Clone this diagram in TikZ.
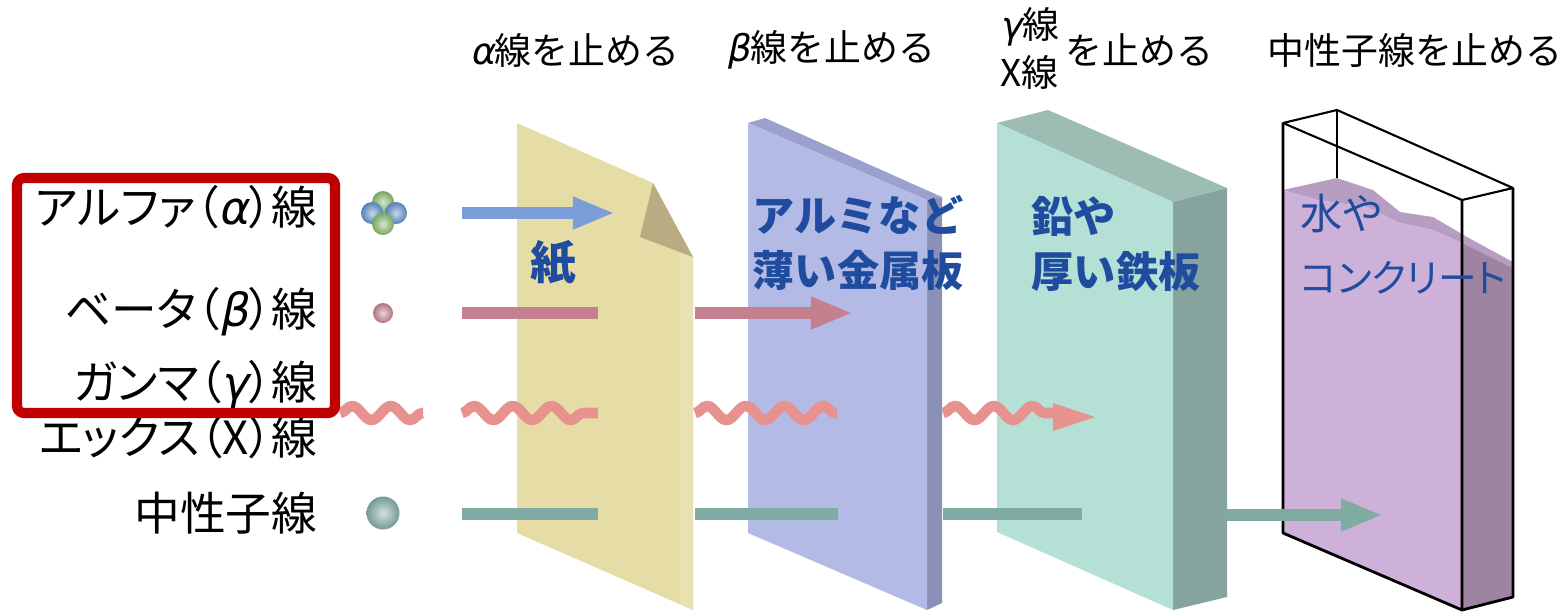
\documentclass[tikz,border=0pt]{standalone}
\usepackage{fontspec}
\usepackage{tikz}
\usetikzlibrary{arrows.meta,decorations.pathmorphing}
\newfontfamily\jp{Noto Sans CJK JP}
\newfontfamily\jpp[RawFeature=+palt]{Noto Sans CJK JP}
\newfontfamily\grk[FakeSlant=0.2]{DejaVu Sans}
\definecolor{kami}{HTML}{E6DCA6}
\definecolor{kamiori}{HTML}{B9AC83}
\definecolor{arumi}{HTML}{B3BAE6}
\definecolor{arumiue}{HTML}{9AA1CC}
\definecolor{arumiyoko}{HTML}{8A90B6}
\definecolor{namari}{HTML}{B5E0D6}
\definecolor{namariue}{HTML}{9DBDB4}
\definecolor{namariyoko}{HTML}{87A39E}
\definecolor{mizu}{HTML}{CDB1D9}
\definecolor{mizuue}{HTML}{B89DC3}
\definecolor{mizuyoko}{HTML}{9E84A0}
\definecolor{alfa}{HTML}{7B9DD8}
\definecolor{beeta}{HTML}{C4808F}
\definecolor{ganma}{HTML}{E8928F}
\definecolor{chusei}{HTML}{80ABA3}
\definecolor{yoshi}{HTML}{5E8FC9}
\definecolor{chuseishi}{HTML}{86B86A}
\definecolor{aoji}{HTML}{1F4C9E}
\definecolor{waku}{HTML}{C00000}

\begin{document}
\begin{tikzpicture}[x=0.01cm,y=-0.01cm,line join=round,
    raberu/.style={font=\jpp\fontsize{13}{14}\selectfont,anchor=east,inner sep=0pt},
    midashi/.style={font=\jp\fontsize{10.5}{12}\selectfont,inner sep=0pt},
    setsumei/.style={aoji,font=\jp\bfseries\fontsize{12}{15.5}\selectfont,
      align=left,anchor=west,inner sep=0pt},
    tama/.style={shading=radial,inner color=#1!35!white,outer color=#1!90!black},
    sen/.style={line width=3.4pt},
    nami/.style={line width=3pt,ganma,decorate,
      decoration={snake,amplitude=2pt,segment length=11pt}},
    yajiri/.style={-{Triangle[length=12pt,width=8.5pt]}}]
  \useasboundingbox (0,0) rectangle (1567,611);

  % paper with folded corner
  \fill[kami] (517,123) -- (653,183) -- (693,257) -- (693,610) -- (517,533) -- cycle;
  \fill[kami!85!white] (680,233) -- (693,257) -- (693,610) -- (680,604) -- cycle;
  \fill[kamiori] (653,183) -- (693,257) -- (640,237) -- cycle;

  % aluminium sheet
  \fill[arumiue] (748,123) -- (765,118) -- (942,197) -- (927,200) -- cycle;
  \fill[arumiyoko] (927,200) -- (942,197) -- (942,603) -- (927,610) -- cycle;
  \fill[arumi] (748,123) -- (927,200) -- (927,610) -- (748,533) -- cycle;

  % lead / iron block
  \fill[namariue] (997,123) -- (1048,110) -- (1227,188) -- (1173,202) -- cycle;
  \fill[namariyoko] (1173,202) -- (1227,188) -- (1227,597) -- (1173,610) -- cycle;
  \fill[namari] (997,123) -- (1173,202) -- (1173,610) -- (997,532) -- cycle;

  % water tank
  \fill[mizuue] (1283,190) -- (1317,200) -- (1367,207) -- (1400,223) -- (1433,230)
    -- (1462,243) -- (1513,268) -- (1513,262) -- (1467,237) -- (1433,217)
    -- (1400,212) -- (1373,190) -- (1337,178) -- cycle;
  \fill[mizuyoko] (1462,243) -- (1513,268) -- (1513,597) -- (1462,610) -- cycle;
  \fill[mizu] (1283,190) -- (1317,200) -- (1367,207) -- (1400,223) -- (1433,230)
    -- (1462,243) -- (1462,610) -- (1283,533) -- cycle;
  \draw[line width=0.6pt] (1283,123) -- (1337,110) -- (1513,188) -- (1462,200) -- cycle;
  \draw[line width=0.6pt] (1337,110) -- (1337,178);
  \draw[line width=0.8pt] (1283,123) -- (1283,533) -- (1462,610) -- (1462,200);
  \draw[line width=0.8pt] (1462,610) -- (1513,597) -- (1513,188);

  % particles
  \shade[tama=chuseishi] (383,202) circle (11);
  \shade[tama=yoshi] (372,213) circle (11);
  \shade[tama=yoshi] (396,213) circle (11);
  \shade[tama=chuseishi] (383,224) circle (11);
  \shade[tama=beeta] (383,313) circle (10);
  \shade[tama=chusei] (383,513) circle (16.5);

  % rays
  \draw[sen,alfa,yajiri] (462,213) -- (615,213);
  \draw[sen,beeta] (462,313) -- (598,313);
  \draw[sen,beeta,yajiri] (695,313) -- (853,313);
  \foreach \a/\b in {340/423,462/598,695/837,943/1055}
    \draw[nami] (\a,413) -- (\b,413);
  \fill[ganma] (1053,403) -- (1095,417) -- (1053,431) -- cycle;
  \foreach \a/\b in {462/598,695/838,943/1082}
    \draw[sen,chusei] (\a,514) -- (\b,514);
  \draw[sen,chusei,yajiri] (1225,515) -- (1383,515);

  % names of the rays
  \node[raberu] (alfasen) at (318,207) {アルファ（{\grk α}）線};
  \node[raberu] (beetasen) at (318,312) {ベータ（{\grk β}）線};
  \node[raberu] (ganmasen) at (318,385) {ガンマ（{\grk γ}）線};
  \node[raberu] (xsen) at (318,437) {エックス（X）線};
  \node[raberu] (chuseisen) at (318,513) {中性子線};
  \draw[waku,line width=2.9pt,rounded corners=2pt] (17,178) rectangle (335,413);

  % what stops them
  \node[midashi] (tomeru1) at (575,50) {{\grk α}線を止める};
  \node[midashi] (tomeru2) at (831,50) {{\grk β}線を止める};
  \node[midashi,anchor=west] (tomeru3a) at (1000,27) {{\grk γ}線};
  \node[midashi,anchor=west] (tomeru3b) at (1000,72) {X線};
  \node[midashi,anchor=west] (tomeru3) at (1065,50) {を止める};
  \node[midashi] (tomeru4) at (1415,50) {中性子線を止める};

  \node[setsumei,font=\jp\bfseries\fontsize{13}{15}\selectfont] (kamimei) at (530,263) {紙};
  \node[setsumei] (arumimei) at (752,243) {アルミなど\\薄い金属板};
  \node[setsumei] (namarimei) at (1031,244) {鉛や\\厚い鉄板};
  \node[setsumei,font=\jpp\fontsize{11}{18}\selectfont] (mizumei) at (1300,244)
    {{\fontsize{12}{18}\selectfont 水や}\\コンクリート};
\end{tikzpicture}
\end{document}
